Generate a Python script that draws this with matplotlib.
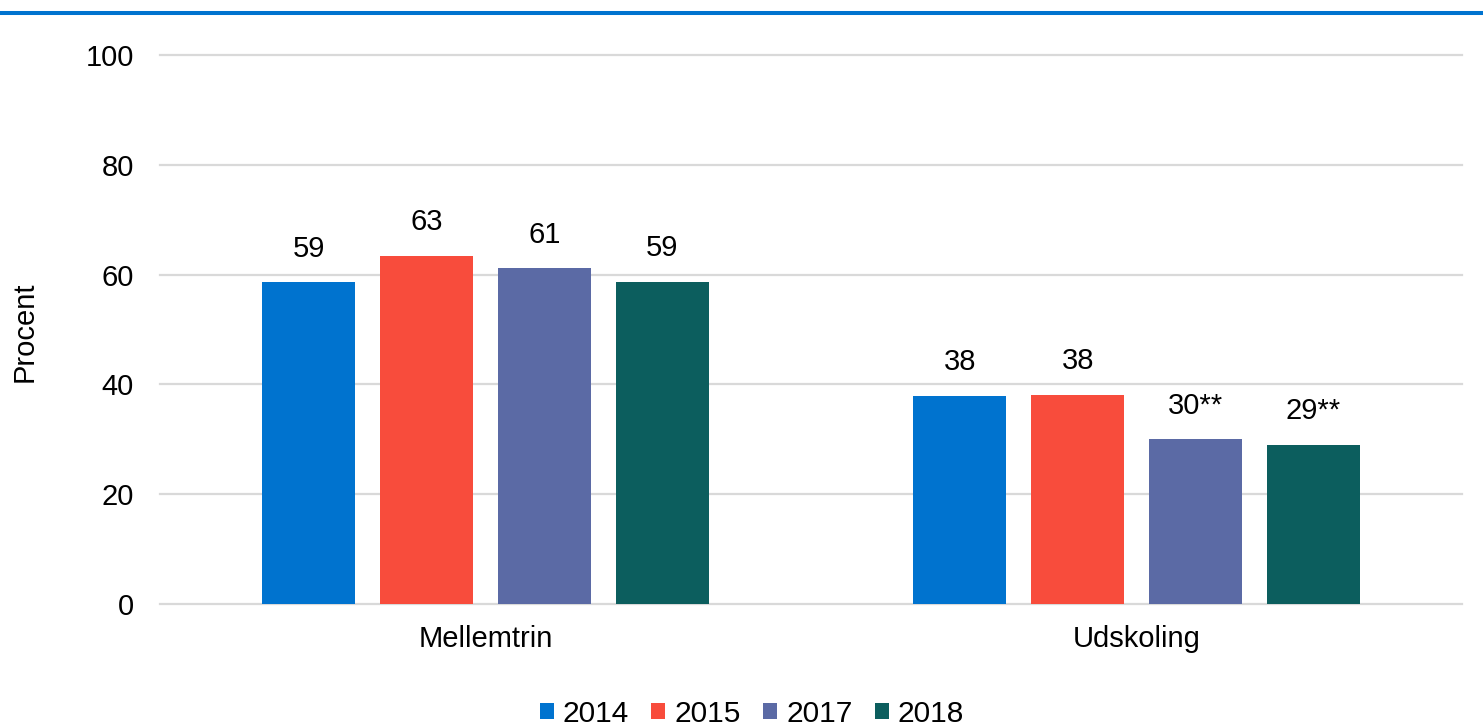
import matplotlib.pyplot as plt
from matplotlib.lines import Line2D

plt.rcParams['font.family'] = ['Liberation Sans', 'DejaVu Sans']

categories = ['Mellemtrin', 'Udskoling']
years = ['2014', '2015', '2017', '2018']
values = {
    '2014': [58.6, 37.9],
    '2015': [63.4, 38.1],
    '2017': [61.2, 30.0],
    '2018': [58.7, 29.0],
}
labels = {
    '2014': ['59', '38'],
    '2015': ['63', '38'],
    '2017': ['61', '30**'],
    '2018': ['59', '29**'],
}
colors = ['#0073CF', '#F84C3C', '#5B6AA5', '#0C5E5E']

fig = plt.figure(figsize=(14.83, 7.28), dpi=100)
ax = fig.add_axes([0.1079, 0.1703, 0.878, 0.7542])

fs = 21
width = 0.143
step = 0.181
x = range(len(categories))
for i, yr in enumerate(years):
    offs = (i - 1.5) * step
    bars = ax.bar([k + offs for k in x], values[yr], width=width,
                  color=colors[i], label=yr, zorder=3)
    ax.bar_label(bars, labels=labels[yr], padding=14, fontsize=fs)

ax.set_xlim(-0.5, 1.5)
ax.set_ylim(0, 100)
ax.set_yticks([0, 20, 40, 60, 80, 100])
ax.set_xticks(list(x))
ax.set_xticklabels(categories)
ax.tick_params(axis='y', length=0, pad=19, labelsize=fs)
ax.tick_params(axis='x', length=0, pad=15, labelsize=fs)
ax.grid(axis='y', color='#D9D9D9', linewidth=1.6, zorder=0)
ax.set_axisbelow(True)
for gl in ax.get_ygridlines():
    gl.set_clip_on(False)
for s in ax.spines.values():
    s.set_visible(False)

fig.text(25 / 1483, 1 - 332 / 728, 'Procent', rotation=90, fontsize=fs,
         ha='center', va='center')

fig.add_artist(Line2D([0, 1], [1 - 13 / 728, 1 - 13 / 728], color='#0073CF',
                      linewidth=2.9, transform=fig.transFigure))

fig.legend(loc='lower center', bbox_to_anchor=(0.507, -0.016), ncol=4,
           frameon=False, fontsize=21.5, handlelength=0.47, handleheight=0.47,
           handletextpad=0.3, columnspacing=0.75, borderaxespad=0)

fig.savefig('out.png', dpi=100)
